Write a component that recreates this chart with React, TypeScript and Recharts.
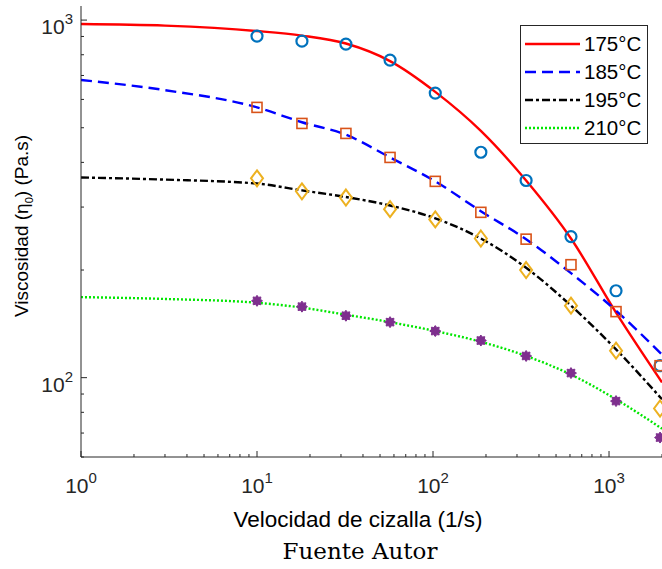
import React from "react";
import { ComposedChart, Line, Scatter, XAxis, YAxis } from "recharts";

// Fitted curves at a handful of shear rates
const LINE_X = [1, 3, 10, 18, 32, 57, 103, 187, 338, 608, 1096, 2000];
const FIT_175 = [975, 965, 932, 905, 860, 768, 630, 490, 356, 245, 152, 97];
const FIT_185 = [680, 637, 570, 518, 478, 413, 354, 292, 244, 196, 154, 116];
const FIT_195 = [363, 358, 349, 334, 320, 303, 279, 245, 203, 159, 120, 87];
const FIT_210 = [168, 166, 162, 157, 150, 143, 135, 126, 115, 102, 87, 72];

// Measured points
const RATE_X = [10, 18, 32, 57, 103, 187, 338, 608, 1096, 1950];
const MEAS_175 = [902, 873, 857, 773, 625, 427, 356, 248, 175, 108];
const MEAS_185 = [570, 514, 482, 413, 354, 290, 244, 207, 153, 108];
const MEAS_195 = [361, 332, 319, 296, 277, 245, 200, 159, 119, 82];
const MEAS_210 = [164, 158, 149, 143, 135, 127, 115, 103, 86, 68];

const X_TICKS = [1, 2, 3, 4, 5, 6, 7, 8, 9, 10, 20, 30, 40, 50, 60, 70, 80, 90, 100, 200, 300, 400, 500, 600, 700, 800, 900, 1000, 2000];
const Y_TICKS = [60, 70, 80, 90, 100, 200, 300, 400, 500, 600, 700, 800, 900, 1000];

const LEGEND = ["175°C", "185°C", "195°C", "210°C"];

const pts = (xs: number[], ys: number[]) => xs.map((x, i) => ({ x, y: ys[i] }));

const FONT = "'Liberation Sans', Arial, sans-serif";
const AXIS = "#262626";

const isPow10 = (v: number) => Math.abs(Math.log10(v) - Math.round(Math.log10(v))) < 1e-9;

const STYLES = [
  { stroke: "#ff0000", dash: undefined as string | undefined },
  { stroke: "#0000ff", dash: "11 6" },
  { stroke: "#000000", dash: "8 3 3 3" },
  { stroke: "#00e600", dash: "2 2" },
];

const XTick = (side: "bottom" | "top") => (props: any) => {
  const { x, y, payload } = props;
  const v = payload.value;
  const major = isPow10(v);
  const len = major ? 6 : 3;
  const dir = side === "bottom" ? -1 : 1;
  return (
    <g>
      <line x1={x} x2={x} y1={y} y2={y + dir * len} stroke={AXIS} strokeWidth={1} />
      {side === "bottom" && major && (
        <text x={x} y={y + 36} textAnchor="middle" fontSize={21} fontFamily={FONT} fill="#262626">
          10<tspan dy={-10} fontSize={15}>{Math.round(Math.log10(v))}</tspan>
        </text>
      )}
    </g>
  );
};

const YTick = (props: any) => {
  const { x, y, payload } = props;
  const v = payload.value;
  const major = isPow10(v);
  const len = major ? 6 : 3;
  return (
    <g>
      <line x1={x} x2={x + len} y1={y} y2={y} stroke={AXIS} strokeWidth={1} />
      {major && (
        <text x={x - 8} y={y + 14} textAnchor="end" fontSize={21} fontFamily={FONT} fill="#262626">
          10<tspan dy={-10} fontSize={15}>{Math.round(Math.log10(v))}</tspan>
        </text>
      )}
    </g>
  );
};

const Circle = (p: any) => (
  <circle cx={p.cx} cy={p.cy} r={5.5} fill="none" stroke="#0072bd" strokeWidth={2.2} />
);
const Square = (p: any) => (
  <rect x={p.cx - 5} y={p.cy - 5} width={10} height={10} fill="none" stroke="#d95319" strokeWidth={1.6} />
);
const Diamond = (p: any) => (
  <path
    d={`M${p.cx},${p.cy - 8} L${p.cx + 6},${p.cy} L${p.cx},${p.cy + 8} L${p.cx - 6},${p.cy} Z`}
    fill="none"
    stroke="#edb120"
    strokeWidth={2}
  />
);
const Star = (p: any) => {
  const d: string[] = [];
  for (let i = 0; i < 16; i++) {
    const r = i % 2 === 0 ? 5.5 : 3.8;
    const a = (Math.PI * i) / 8;
    d.push(`${(p.cx + r * Math.cos(a)).toFixed(2)},${(p.cy + r * Math.sin(a)).toFixed(2)}`);
  }
  return <polygon points={d.join(" ")} fill="#7e2f8e" stroke="#7e2f8e" strokeWidth={1} />;
};

function LegendBox() {
  return (
    <div
      style={{
        position: "absolute",
        left: 520,
        top: 25,
        width: 126,
        height: 117,
        border: "1px solid #262626",
        background: "#fff",
        fontFamily: FONT,
        fontSize: 20.5,
        color: "#000",
      }}
    >
      {LEGEND.map((name, i) => (
        <div key={name} style={{ position: "absolute", left: 0, top: 6 + i * 28, height: 24, display: "flex", alignItems: "center" }}>
          <svg width={59} height={10} style={{ marginLeft: 4 }}>
            <line x1={0} x2={55} y1={5} y2={5} stroke={STYLES[i].stroke} strokeWidth={2.3} strokeDasharray={STYLES[i].dash} />
          </svg>
          <span>{name}</span>
        </div>
      ))}
    </div>
  );
}

export default function App() {
  const fits = [FIT_175, FIT_185, FIT_195, FIT_210];
  return (
    <div style={{ position: "absolute", left: 0, top: 0, width: 662, height: 569, background: "#fff", overflow: "hidden" }}>
      <ComposedChart width={662} height={569} margin={{ top: 6, right: 0, bottom: 0, left: 0 }}>
        <XAxis
          dataKey="x"
          type="number"
          scale="log"
          domain={[1, 2000]}
          allowDataOverflow
          ticks={X_TICKS}
          interval={0}
          height={112}
          tickSize={0}
          tickMargin={0}
          tick={XTick("bottom")}
          axisLine={{ stroke: AXIS, strokeWidth: 1 }}
        />
        <XAxis
          xAxisId="top"
          orientation="top"
          dataKey="x"
          type="number"
          scale="log"
          domain={[1, 2000]}
          allowDataOverflow
          ticks={X_TICKS}
          interval={0}
          height={0}
          tickSize={0}
          tickMargin={0}
          tick={XTick("top")}
          axisLine={{ stroke: AXIS, strokeWidth: 1 }}
        />
        <YAxis
          dataKey="y"
          type="number"
          scale="log"
          domain={[60, 1095]}
          allowDataOverflow
          ticks={Y_TICKS}
          interval={0}
          width={81}
          tickSize={0}
          tickMargin={0}
          tick={YTick}
          axisLine={{ stroke: AXIS, strokeWidth: 1 }}
        />
        {fits.map((f, i) => (
          <Line
            key={i}
            data={pts(LINE_X, f)}
            dataKey="y"
            type="monotone"
            stroke={STYLES[i].stroke}
            strokeWidth={2.4}
            strokeDasharray={STYLES[i].dash}
            dot={false}
            activeDot={false}
            isAnimationActive={false}
          />
        ))}
        <Scatter data={pts(RATE_X, MEAS_175)} dataKey="y" shape={Circle} isAnimationActive={false} />
        <Scatter data={pts(RATE_X, MEAS_185)} dataKey="y" shape={Square} isAnimationActive={false} />
        <Scatter data={pts(RATE_X, MEAS_195)} dataKey="y" shape={Diamond} isAnimationActive={false} />
        <Scatter data={pts(RATE_X, MEAS_210)} dataKey="y" shape={Star} isAnimationActive={false} />
      </ComposedChart>
      <LegendBox />
      <div
        style={{
          position: "absolute",
          left: 22,
          top: 226,
          transform: "translate(-50%, -50%) rotate(-90deg)",
          whiteSpace: "nowrap",
          fontFamily: FONT,
          fontSize: 19,
          lineHeight: "22px",
          color: "#000",
        }}
      >
        Viscosidad (η<sub style={{ fontSize: 11, lineHeight: 0 }}>0</sub>) (Pa.s)
      </div>
      <div
        style={{
          position: "absolute",
          left: 358,
          top: 520,
          transform: "translate(-50%, -50%)",
          whiteSpace: "nowrap",
          fontFamily: FONT,
          fontSize: 22.5,
          color: "#000",
        }}
      >
        Velocidad de cizalla (1/s)
      </div>
      <div
        style={{
          position: "absolute",
          left: 360,
          top: 551,
          transform: "translate(-50%, -50%)",
          whiteSpace: "nowrap",
          fontFamily: "'DejaVu Serif', serif",
          fontSize: 23,
          color: "#000",
        }}
      >
        Fuente Autor
      </div>
    </div>
  );
}
